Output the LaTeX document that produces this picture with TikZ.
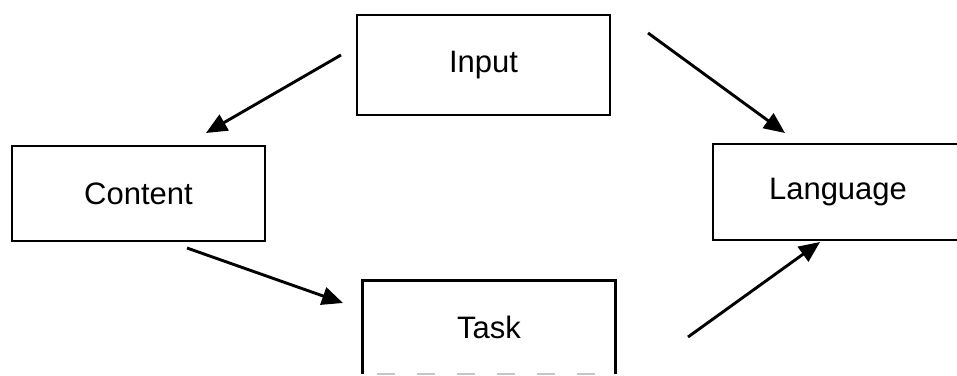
\documentclass[tikz,border=0pt]{standalone}
\usepackage{fontspec}
\setmainfont{Liberation Sans}
\usetikzlibrary{arrows.meta}

\tikzset{
  box/.style={draw=black, line width=2.8pt, inner sep=0pt, font=\fontsize{31}{36}\selectfont},
  openbox/.style={draw=none, inner sep=0pt, font=\fontsize{31}{36}\selectfont},
  flow/.style={line width=2.9pt, -{Triangle[length=21pt,width=18pt]}}
}

\begin{document}
\begin{tikzpicture}[x=1pt,y=-1pt]
  \useasboundingbox (0,0) rectangle (957,375);

  % boxes
  \node[box, minimum width=253pt, minimum height=100pt] (input)    at (483.5,65)  {Input};
  \node[box, minimum width=253pt, minimum height=95pt]  (content)  at (138.5,193.5) {Content};
  \node[box, minimum width=250pt, minimum height=96pt]  (language) at (838,192)   {Language};
  \node[openbox, minimum width=252pt, minimum height=93pt] (task)  at (489,327.5) {Task};
  \draw[line width=2.8pt] (task.south west) -- (task.north west) -- (task.north east) -- (task.south east);
  \draw[line width=2pt, gray!45, dash pattern=on 18pt off 22pt] ([xshift=14pt]task.south west) -- (task.south east);

  % free-standing arrow ends
  \coordinate (a1s) at (341,55);  \coordinate (a1e) at (206,133);
  \coordinate (a2s) at (648,33);  \coordinate (a2e) at (785,133);
  \coordinate (a3s) at (187,248); \coordinate (a3e) at (343,303);
  \coordinate (a4s) at (688,337); \coordinate (a4e) at (820,242);

  % arrows
  \draw[flow] (a1s) -- (a1e);
  \draw[flow] (a2s) -- (a2e);
  \draw[flow] (a3s) -- (a3e);
  \draw[flow] (a4s) -- (a4e);
\end{tikzpicture}
\end{document}
